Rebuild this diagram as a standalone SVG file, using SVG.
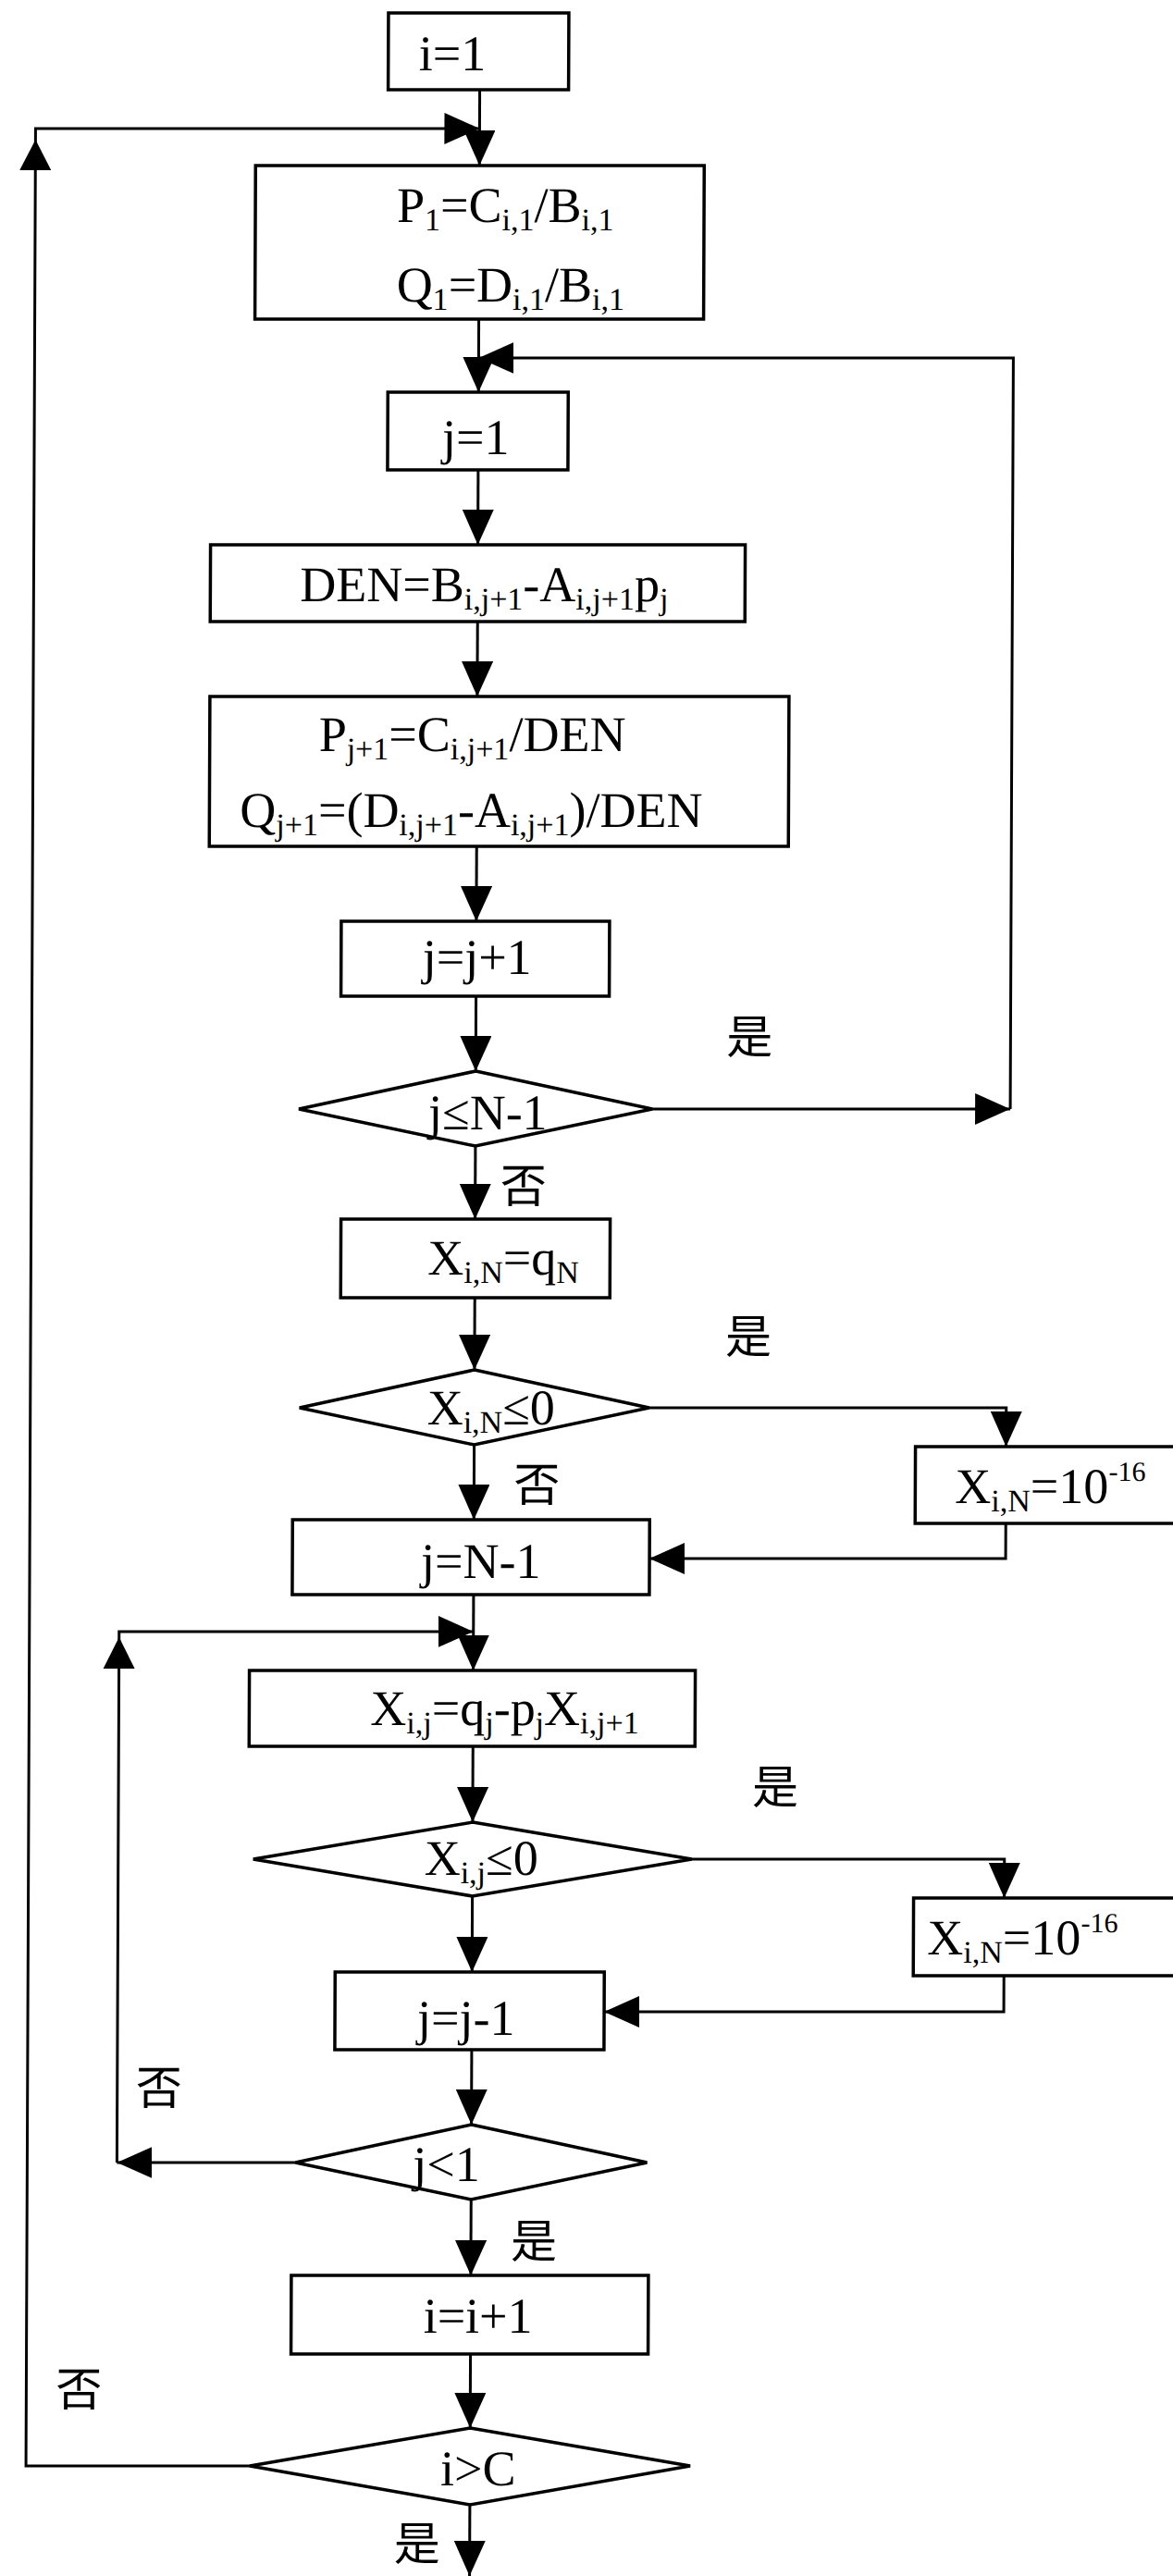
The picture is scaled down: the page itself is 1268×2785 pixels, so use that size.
<svg xmlns="http://www.w3.org/2000/svg" width="1268" height="2785" viewBox="0 0 1268 2785">
<style>
.bx{fill:#fff;stroke:#000;stroke-width:3.5}
.ln{fill:none;stroke:#000;stroke-width:3}
.t{font-family:"Liberation Serif","Times New Roman",serif;font-size:54px;fill:#000}
.s{font-size:34px}
.c{font-family:"Liberation Serif","Noto Sans CJK SC",serif;font-size:50px;fill:#000;text-anchor:middle}
</style>
<defs>
<marker id="ah" markerUnits="userSpaceOnUse" markerWidth="38" markerHeight="34" refX="38" refY="17" orient="auto" viewBox="0 0 38 34"><path d="M0,0 L38,17 L0,34 Z" fill="#000"/></marker>
</defs>
<rect width="1268" height="2785" fill="#fff"/>
<g transform="skewX(-0.235)">
<g id="connectors">
<path class="ln" d="M519,97 V179" marker-end="url(#ah)"/>
<path class="ln" d="M285,2666 H39 V139 H519" marker-end="url(#ah)"/>
<polygon points="39,151 22,184 56,184" fill="#000"/>
<path class="ln" d="M519,345 V424" marker-end="url(#ah)"/>
<path class="ln" d="M710,1199 H1097" marker-end="url(#ah)"/>
<path class="ln" d="M1097,1199 V387 H519" marker-end="url(#ah)"/>
<path class="ln" d="M519,508 V589" marker-end="url(#ah)"/>
<path class="ln" d="M519,672 V753" marker-end="url(#ah)"/>
<path class="ln" d="M519,915 V996" marker-end="url(#ah)"/>
<path class="ln" d="M519,1077 V1158" marker-end="url(#ah)"/>
<path class="ln" d="M519,1239 V1318" marker-end="url(#ah)"/>
<path class="ln" d="M519,1403 V1481" marker-end="url(#ah)"/>
<path class="ln" d="M708,1522 H1094 V1564" marker-end="url(#ah)"/>
<path class="ln" d="M519,1562 V1643" marker-end="url(#ah)"/>
<path class="ln" d="M1094,1647 V1685 H709" marker-end="url(#ah)"/>
<path class="ln" d="M519,1724 V1806" marker-end="url(#ah)"/>
<path class="ln" d="M329,2338 H136" marker-end="url(#ah)"/>
<path class="ln" d="M136,2338 V1764 H519" marker-end="url(#ah)"/>
<polygon points="136,1770 119,1804 153,1804" fill="#000"/>
<path class="ln" d="M519,1888 V1970" marker-end="url(#ah)"/>
<path class="ln" d="M756,2010 H1094 V2052" marker-end="url(#ah)"/>
<path class="ln" d="M519,2050 V2132" marker-end="url(#ah)"/>
<path class="ln" d="M1094,2136 V2175 H662" marker-end="url(#ah)"/>
<path class="ln" d="M519,2216 V2297" marker-end="url(#ah)"/>
<path class="ln" d="M519,2378 V2460" marker-end="url(#ah)"/>
<path class="ln" d="M519,2545 V2625" marker-end="url(#ah)"/>
<path class="ln" d="M519,2708 V2785" marker-end="url(#ah)"/>
</g>
<g id="labels">
<text class="c" x="815" y="1139">是</text>
<text class="c" x="571" y="1300">否</text>
<text class="c" x="815" y="1463">是</text>
<text class="c" x="587" y="1623">否</text>
<text class="c" x="846" y="1950">是</text>
<text class="c" x="181" y="2275">否</text>
<text class="c" x="587" y="2441">是</text>
<text class="c" x="96" y="2601">否</text>
<text class="c" x="462" y="2768">是</text>
</g>
<g id="n1"><rect class="bx" x="420" y="14" width="195" height="83"/><text class="t" x="453" y="76">i=1</text></g>
<g id="n2"><rect class="bx" x="277" y="179" width="485" height="166"/>
<text class="t" x="430" y="240">P<tspan class="s" dy="9">1</tspan><tspan dy="-9">=C</tspan><tspan class="s" dy="9">i,1</tspan><tspan dy="-9">/B</tspan><tspan class="s" dy="9">i,1</tspan></text>
<text class="t" x="430" y="326">Q<tspan class="s" dy="9">1</tspan><tspan dy="-9">=D</tspan><tspan class="s" dy="9">i,1</tspan><tspan dy="-9">/B</tspan><tspan class="s" dy="9">i,1</tspan></text></g>
<g id="n3"><rect class="bx" x="421" y="424" width="195" height="84"/><text class="t" x="480" y="491">j=1</text></g>
<g id="n4"><rect class="bx" x="230" y="589" width="578" height="83"/>
<text class="t" x="327" y="650">DEN=B<tspan class="s" dy="9">i,j+1</tspan><tspan dy="-9">-A</tspan><tspan class="s" dy="9">i,j+1</tspan><tspan dy="-9">p</tspan><tspan class="s" dy="9">j</tspan></text></g>
<g id="n5"><rect class="bx" x="230" y="753" width="626" height="162"/>
<text class="t" x="348" y="812">P<tspan class="s" dy="9">j+1</tspan><tspan dy="-9">=C</tspan><tspan class="s" dy="9">i,j+1</tspan><tspan dy="-9">/DEN</tspan></text>
<text class="t" x="263" y="894">Q<tspan class="s" dy="9">j+1</tspan><tspan dy="-9">=(D</tspan><tspan class="s" dy="9">i,j+1</tspan><tspan dy="-9">-A</tspan><tspan class="s" dy="9">i,j+1</tspan><tspan dy="-9">)/DEN</tspan></text></g>
<g id="n6"><rect class="bx" x="373" y="996" width="290" height="81"/><text class="t" x="461" y="1053">j=j+1</text></g>
<g id="n7"><polygon class="bx" points="519,1158 710,1199 519,1239 328,1199"/><text class="t" x="468" y="1221">j≤N-1</text></g>
<g id="n8"><rect class="bx" x="374" y="1318" width="291" height="85"/>
<text class="t" x="468" y="1378">X<tspan class="s" dy="9">i,N</tspan><tspan dy="-9">=q</tspan><tspan class="s" dy="9">N</tspan></text></g>
<g id="n9"><polygon class="bx" points="519,1481 708,1522 519,1562 330,1522"/>
<text class="t" x="468" y="1540">X<tspan class="s" dy="9">i,N</tspan><tspan dy="-9">≤0</tspan></text></g>
<g id="n10"><rect class="bx" x="996" y="1564" width="320" height="83"/>
<text class="t" x="1039" y="1625">X<tspan class="s" dy="9">i,N</tspan><tspan dy="-9">=10</tspan><tspan font-size="30" dy="-24">-16</tspan></text></g>
<g id="n11"><rect class="bx" x="323" y="1643" width="386" height="81"/><text class="t" x="462" y="1706">j=N-1</text></g>
<g id="n12"><rect class="bx" x="277" y="1806" width="482" height="82"/>
<text class="t" x="408" y="1865">X<tspan class="s" dy="9">i,j</tspan><tspan dy="-9">=q</tspan><tspan class="s" dy="9">j</tspan><tspan dy="-9">-p</tspan><tspan class="s" dy="9">j</tspan><tspan dy="-9">X</tspan><tspan class="s" dy="9">i,j+1</tspan></text></g>
<g id="n13"><polygon class="bx" points="519,1970 756,2010 519,2050 282,2010"/>
<text class="t" x="467" y="2027">X<tspan class="s" dy="9">i,j</tspan><tspan dy="-9">≤0</tspan></text></g>
<g id="n14"><rect class="bx" x="996" y="2052" width="320" height="84"/>
<text class="t" x="1011" y="2113">X<tspan class="s" dy="9">i,N</tspan><tspan dy="-9">=10</tspan><tspan font-size="30" dy="-24">-16</tspan></text></g>
<g id="n15"><rect class="bx" x="371" y="2132" width="291" height="84"/><text class="t" x="460" y="2200">j=j-1</text></g>
<g id="n16"><polygon class="bx" points="519,2297 709,2338 519,2378 329,2338"/><text class="t" x="456" y="2358">j&lt;1</text></g>
<g id="n17"><rect class="bx" x="325" y="2460" width="386" height="85"/><text class="t" x="468" y="2522">i=i+1</text></g>
<g id="n18"><polygon class="bx" points="519,2625 757,2666 519,2708 281,2666"/><text class="t" x="487" y="2687">i&gt;C</text></g>
</g>
</svg>
